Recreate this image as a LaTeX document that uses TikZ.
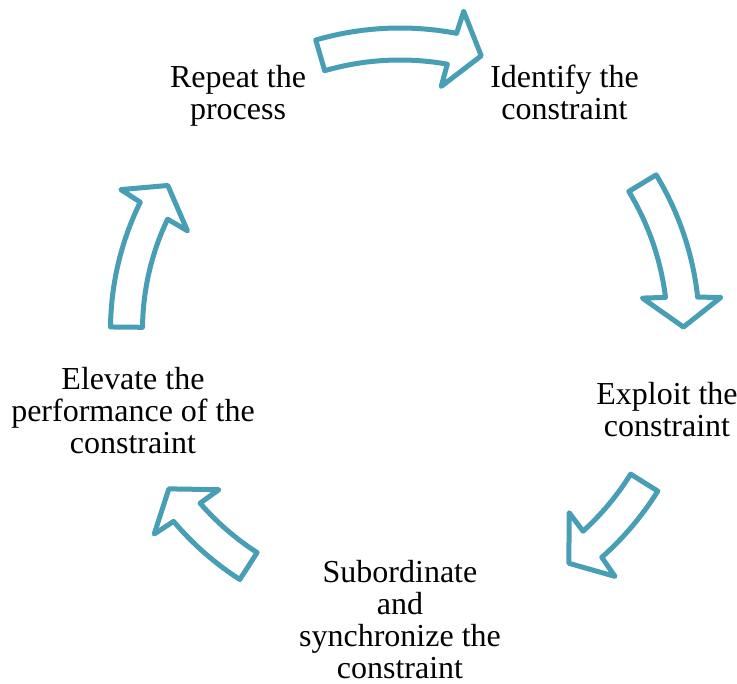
\documentclass[tikz,border=0pt]{standalone}
\usepackage{fontspec}
\setmainfont{Liberation Serif}
\usetikzlibrary{calc}
\definecolor{cyteal}{RGB}{72,158,181}
\newcommand\cycarrow[3]{% tail angle, tip angle, mid radius
  \pgfmathsetmacro\cyRo{#3+16}
  \pgfmathsetmacro\cyRi{#3-16}
  \pgfmathsetmacro\cyHo{#3+39}
  \pgfmathsetmacro\cyHi{#3-39}
  \pgfmathsetmacro\cyAno{#2+5.7}
  \pgfmathsetmacro\cyAni{#2+6.4}
  \pgfmathsetmacro\cyAho{#2+5.2}
  \pgfmathsetmacro\cyAhi{#2+6.9}
  \draw[cyc] ($(C)+(#1:\cyRo pt)$) arc[start angle=#1, end angle=\cyAno, radius=\cyRo pt]
    -- ($(C)+(\cyAho:\cyHo pt)$) -- ($(C)+(#2:#3pt)$) -- ($(C)+(\cyAhi:\cyHi pt)$)
    -- ($(C)+(\cyAni:\cyRi pt)$) arc[start angle=\cyAni, end angle=#1, radius=\cyRi pt] -- cycle;
}
\begin{document}
\begin{tikzpicture}[
  cyc/.style={draw=cyteal, line width=5pt, line join=round, fill=white},
  lbl/.style={align=center, inner sep=0pt, font=\fontsize{32}{32}\selectfont}
]
\useasboundingbox (0pt,0pt) rectangle (737pt,-684pt);
\coordinate (C) at (400pt,-330pt);
\cycarrow{106.2}{73.5}{286}
\cycarrow{31.2}{0.6}{283.5}
\cycarrow{-32}{-54.1}{288}
\cycarrow{-122.7}{-145.5}{280.5}
\cycarrow{179.4}{148.1}{273.5}
\node[lbl] (identify) at (564.5pt,-92pt) {Identify the\\constraint};
\node[lbl] (exploit) at (667pt,-410pt) {Exploit the\\constraint};
\node[lbl] (subord) at (400pt,-619.5pt) {Subordinate\\and\\synchronize the\\constraint};
\node[lbl] (elevate) at (133pt,-410.5pt) {Elevate the\\performance of the\\constraint};
\node[lbl] (repeat) at (238pt,-96pt) {Repeat the\\process};
\end{tikzpicture}
\end{document}
